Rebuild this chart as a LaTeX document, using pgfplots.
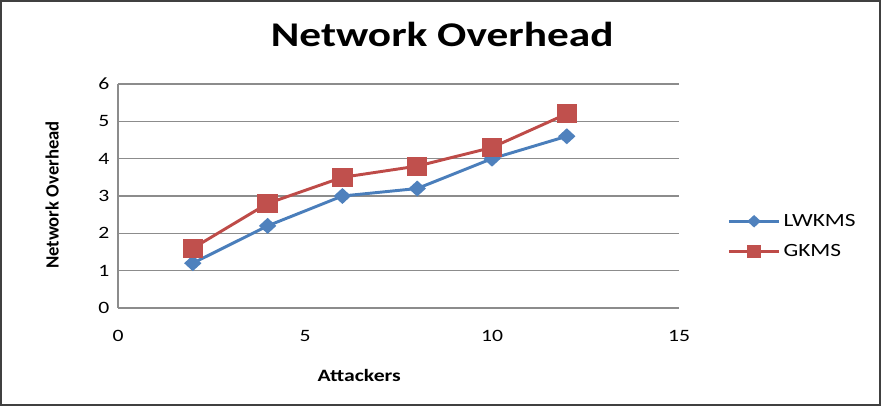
\documentclass[border=0pt]{standalone}
\usepackage{pgfplots}
\pgfplotsset{compat=1.18}
\usepackage{fontspec}
\setmainfont{Carlito}[FakeStretch=1.25]
\newfontfamily\plainfont{Carlito}

\definecolor{lwblue}{HTML}{4A7EBB}
\definecolor{lwbluemark}{HTML}{4F81BD}
\definecolor{gkred}{HTML}{BE4B48}
\definecolor{gkredmark}{HTML}{C0504D}
\definecolor{gridgray}{HTML}{8C8C8C}

\begin{document}
\begin{tikzpicture}[x=1pt,y=1pt]
\useasboundingbox (0,0) rectangle (660.75,304.5);
% chart frame
\draw[line width=1.5pt, color=black!75] (0.75,0.75) rectangle (660,303.75);
\begin{axis}[
  at={(88.5pt,73.5pt)}, anchor=south west,
  scale only axis, width=420.75pt, height=168pt,
  xmin=0, xmax=15, ymin=0, ymax=6,
  axis x line*=bottom, axis y line*=left,
  axis line style={draw=gridgray, line width=1pt, -},
  ymajorgrids, grid style={gridgray, line width=1pt},
  major tick length=0pt,
  xtick={0,5,10,15}, ytick={0,1,2,3,4,5,6},
  ticklabel style={font=\fontsize{13}{15}\selectfont},
  /pgf/number format/assume math mode=true,
  yticklabel style={xshift=-3pt},
  xticklabel style={yshift=-13pt},
  title={Network Overhead},
  title style={font=\fontsize{26}{30}\selectfont\bfseries,
    at={(axis description cs:0.578,1.1875)}, anchor=center},
  xlabel={Attackers},
  xlabel style={font=\fontsize{13}{15}\selectfont\bfseries,
    at={(axis description cs:0.43,-0.30)}, anchor=center},
  ylabel={Network Overhead},
  ylabel style={font=\plainfont\fontsize{14}{16}\selectfont\bfseries,
    at={(axis description cs:-0.1176,0.504)}, anchor=center},
  legend style={draw=none, fill=none, at={(axis description cs:1.0856,0.32)},
    anchor=west, font=\fontsize{14}{16}\selectfont, row sep=8pt,
    inner xsep=0pt, inner ysep=0pt},
  legend cell align=left,
  % swatch: 38pt line with the marker in the middle
  legend image code/.code={%
    \draw[#1, mark repeat=2, mark phase=2]
      plot coordinates {(0pt,0pt) (19pt,0pt) (38pt,0pt)};},
]
\addplot[forget plot, lwblue, line width=2.2pt, mark=diamond*, mark size=4.5pt,
  mark options={lwbluemark, xscale=1.45}]
  coordinates {(2,1.2) (4,2.2) (6,3.0) (8,3.2) (10,4.0) (12,4.6)};
\addplot[forget plot, gkred, line width=2.2pt, mark=square*, mark size=6pt,
  mark options={gkredmark, xscale=1.1}]
  coordinates {(2,1.6) (4,2.8) (6,3.5) (8,3.8) (10,4.3) (12,5.2)};
% legend entries with smaller markers
\addlegendimage{lwblue, line width=2.2pt, mark=diamond*, mark size=3.2pt,
  mark options={lwbluemark, xscale=1.45}}
\addlegendentry{LWKMS}
\addlegendimage{gkred, line width=2.2pt, mark=square*, mark size=3.8pt,
  mark options={gkredmark, xscale=1.1}}
\addlegendentry{GKMS}
\end{axis}
\end{tikzpicture}
\end{document}
